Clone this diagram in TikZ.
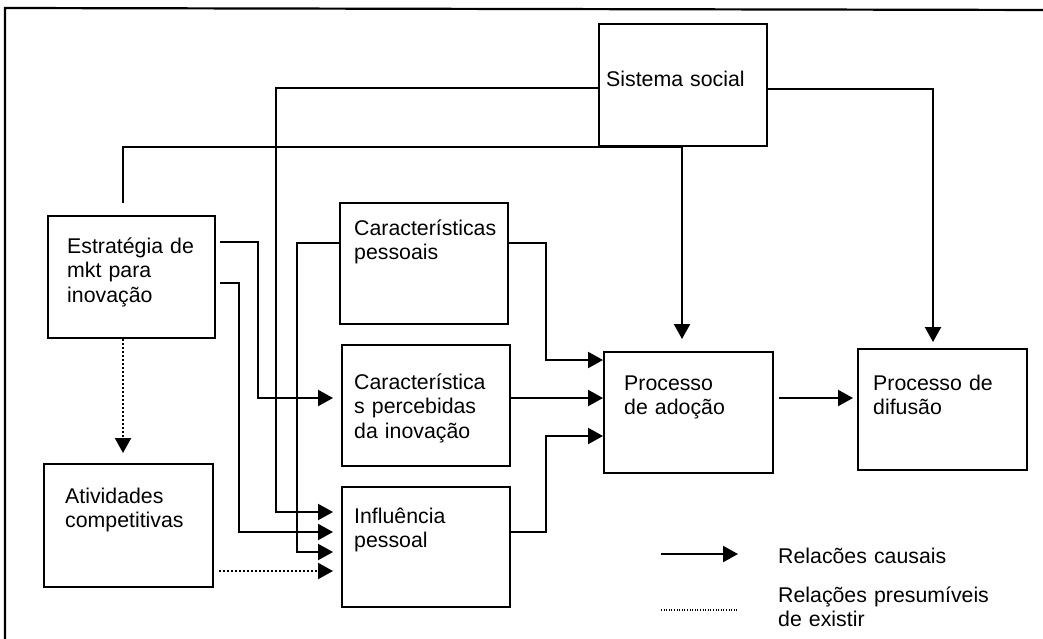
\documentclass[tikz,border=0pt]{standalone}
\usepackage{fontspec}
\setmainfont{Liberation Sans}
\usetikzlibrary{arrows.meta}
\begin{document}
\begin{tikzpicture}[x=1pt,y=-1pt,
  box/.style={draw,line width=2pt,rectangle,inner sep=0pt,anchor=north west},
  txt/.style={anchor=base west,inner sep=0pt,text width=165pt,align=left,font=\fontsize{21.3}{24.5}\selectfont},
  conn/.style={line width=2.2pt},
  arr/.style={conn,-{Triangle[length=15pt,width=16pt]}},
  dotarr/.style={line width=2.2pt,dash pattern=on 2pt off 2pt,-{Triangle[length=15pt,width=16pt]}},
  legdot/.style={line width=1.1pt,dash pattern=on 1pt off 1.6pt}
]
\useasboundingbox (0,0) rectangle (1043,638);
\fill[white] (0,0) rectangle (1043,638);
% frame
\draw[line width=2.2pt] (5,660) -- (5,8) -- (1060,10);

% boxes
\node[box,minimum width=168pt,minimum height=122pt] (soc) at (598,23) {};
\node[box,minimum width=167pt,minimum height=122pt] (est) at (47,215) {};
\node[box,minimum width=169pt,minimum height=123pt] (ativ) at (43,463) {};
\node[box,minimum width=168pt,minimum height=121pt] (cpes) at (339,202) {};
\node[box,minimum width=168pt,minimum height=121pt] (cperc) at (341,344) {};
\node[box,minimum width=168pt,minimum height=120pt] (infl) at (341,486) {};
\node[box,minimum width=169pt,minimum height=121pt] (adoc) at (603,351) {};
\node[box,minimum width=169pt,minimum height=121pt] (dif) at (857,348) {};

% texts
\node[txt] (tsoc) at (606,86) {Sistema social};
\node[txt] (test) at (67,253) {Estratégia de\\mkt para\\inovação};
\node[txt] (tativ) at (65,503) {Atividades\\competitivas};
\node[txt] (tcpes) at (354,235) {Características\\pessoais};
\node[txt] (tcperc) at (354,389) {Característica\\s percebidas\\da inovação};
\node[txt] (tinfl) at (354,523) {Influência\\pessoal};
\node[txt] (tadoc) at (624,390) {Processo\\de adoção};
\node[txt] (tdif) at (873,390) {Processo de\\difusão};

% bend coordinates
\coordinate (a1) at (276,88);  \coordinate (a2) at (276,512);
\coordinate (b1) at (933,89);
\coordinate (c1) at (123,147); \coordinate (c2) at (682,147);
\coordinate (d1) at (258,242); \coordinate (d2) at (258,398);
\coordinate (e1) at (239,283); \coordinate (e2) at (239,532);
\coordinate (f1) at (297,243); \coordinate (f2) at (297,552);
\coordinate (g1) at (546,243); \coordinate (g2) at (546,360);
\coordinate (h1) at (546,532); \coordinate (h2) at (546,436);
\coordinate (k1) at (0,571);
\coordinate (m1) at (0,398);

% connectors
\draw[arr,shorten >=8pt] (soc.west |- a1) -- (a1) -- (a2) -- (infl.west |- a2);
\draw[arr,shorten >=6pt] (soc.east |- b1) -- (b1) -- (b1 |- dif.north);
\draw[arr,shorten <=12pt,shorten >=12pt] (c1 |- est.north) -- (c1) -- (c2) -- (c2 |- adoc.north);
\draw[arr,shorten <=4pt,shorten >=8pt] (est.east |- d1) -- (d1) -- (d2) -- (cperc.west |- d2);
\draw[arr,shorten <=4pt,shorten >=8pt] (est.east |- e1) -- (e1) -- (e2) -- (infl.west |- e2);
\draw[arr,shorten >=8pt] (cpes.west |- f1) -- (f1) -- (f2) -- (infl.west |- f2);
\draw[dotarr,shorten <=5pt,shorten >=8pt] (ativ.east |- k1) -- (infl.west |- k1);
\draw[dotarr,shorten >=10pt] (c1 |- est.south) -- (c1 |- ativ.north);
\draw[arr] (cpes.east |- g1) -- (g1) -- (g2) -- (adoc.west |- g2);
\draw[arr] (cperc.east |- m1) -- (adoc.west |- m1);
\draw[arr] (infl.east |- h1) -- (h1) -- (h2) -- (adoc.west |- h2);
\draw[arr,shorten <=5pt,shorten >=4pt] (adoc.east |- m1) -- (dif.west |- m1);

% legend
\coordinate (l1) at (661,554); \coordinate (l2) at (738,554);
\coordinate (l3) at (661,610); \coordinate (l4) at (738,610);
\draw[arr] (l1) -- (l2);
\draw[legdot] (l3) -- (l4);
\node[txt,text width=250pt] (leg1) at (778,563) {Relacões causais};
\node[txt,text width=250pt] (leg2) at (778,602) {Relações presumíveis\\de existir};
\end{tikzpicture}
\end{document}
